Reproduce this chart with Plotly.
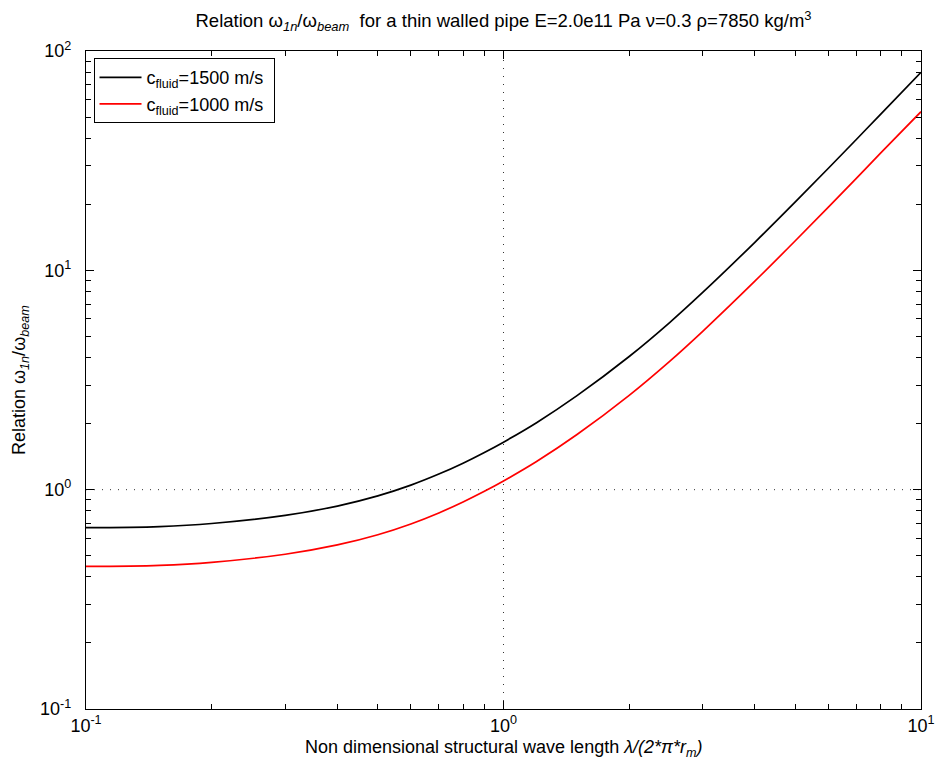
import plotly.graph_objects as go

# Non-dimensional structural wave length  lambda / (2*pi*r_m)
wave_length = [0.1, 0.15, 0.2, 0.3, 0.4, 0.5, 0.6, 0.7, 0.8, 0.9, 1.0,
               1.2, 1.5, 2.0, 2.5, 3.0, 4.0, 5.0, 6.0, 7.0, 8.0, 10.0]

# Frequency ratio omega_1n / omega_beam for the two fluid sound speeds
ratio_c1500 = [0.671, 0.679, 0.701, 0.763, 0.842, 0.937, 1.049, 1.178, 1.321,
               1.478, 1.647, 2.020, 2.683, 4.047, 5.78, 7.93, 13.42, 20.50,
               29.20, 39.49, 51.45, 80.0]
ratio_c1000 = [0.4465, 0.4519, 0.4663, 0.5077, 0.5600, 0.6233, 0.6979, 0.7834,
               0.8789, 0.9829, 1.0957, 1.344, 1.784, 2.692, 3.847, 5.274, 8.927,
               13.64, 19.43, 26.28, 34.22, 52.9]

series_names = ["c<sub>fluid</sub>=1500 m/s", "c<sub>fluid</sub>=1000 m/s"]
series_colors = ["#000000", "#ff0000"]

# Unit reference lines
ref_x_span = [0.1, 10.0]
ref_y_span = [0.1, 100.0]
ref_level = 1.0

x_ticks = [0.1, 1.0, 10.0]
x_tick_text = ["10<sup>-1</sup>", "10<sup>0</sup>", "10<sup>1</sup>"]
y_ticks = [0.1, 1.0, 10.0, 100.0]
y_tick_text = ["10<sup>-1</sup>", "10<sup>0</sup>", "10<sup>1</sup>", "10<sup>2</sup>"]

FONT = "Liberation Sans, Arial, Helvetica, sans-serif"
FS = 18

fig = go.Figure()

ref_style = dict(color="#333333", width=1, dash="1px,7px")
fig.add_trace(go.Scatter(x=ref_x_span, y=[ref_level, ref_level], mode="lines",
                         line=ref_style, showlegend=False, hoverinfo="skip"))
fig.add_trace(go.Scatter(x=[ref_level, ref_level], y=ref_y_span, mode="lines",
                         line=ref_style, showlegend=False, hoverinfo="skip"))

for name, color, values in zip(series_names, series_colors, [ratio_c1500, ratio_c1000]):
    fig.add_trace(go.Scatter(x=wave_length, y=values, mode="lines", name=name + "\u00a0",
                             line=dict(color=color, width=1.7, shape="spline", smoothing=1.0)))

minor_x = [d * 10.0 ** e for e in (-1, 0) for d in range(2, 10)]
minor_y = [d * 10.0 ** e for e in (-1, 0, 1) for d in range(2, 10)]

axis_common = dict(
    type="log",
    showline=True, linecolor="black", linewidth=1.3, mirror="ticks",
    ticks="inside", ticklen=8, tickwidth=1, tickcolor="black",
    showgrid=False, zeroline=False,
    tickfont=dict(family=FONT, size=FS, color="black"),
)

fig.update_xaxes(range=[-1, 1], tickmode="array", tickvals=x_ticks, ticktext=x_tick_text,
                 minor=dict(ticks="inside", ticklen=4.5, tickcolor="black", tickvals=minor_x, showgrid=False),
                 **axis_common)
fig.update_yaxes(range=[-1, 2], tickmode="array", tickvals=y_ticks, ticktext=y_tick_text,
                 ticklabelstandoff=10,
                 minor=dict(ticks="inside", ticklen=4.5, tickcolor="black", tickvals=minor_y, showgrid=False),
                 **axis_common)

fig.update_layout(
    width=935, height=772,
    margin=dict(l=86, r=14, t=51, b=63, autoexpand=False),
    paper_bgcolor="white", plot_bgcolor="white",
    font=dict(family=FONT, size=FS, color="black"),
    title=dict(
        text="Relation ω<sub><i>1n</i></sub>/ω<sub><i>beam</i></sub>\u00a0 for a thin walled pipe "
             "E=2.0e11 Pa ν=0.3 ρ=7850 kg/m<sup>3</sup>",
        x=0.5, xref="paper", xanchor="center",
        y=1 - 21 / 772, yref="container", yanchor="middle",
        font=dict(family=FONT, size=18.5, color="black"),
    ),
    legend=dict(
        x=0.009, y=0.989, xanchor="left", yanchor="top",
        bgcolor="white", bordercolor="black", borderwidth=1,
        itemwidth=42,
        font=dict(family=FONT, size=FS, color="black"),
    ),
    showlegend=True,
    annotations=[
        dict(text="Non dimensional structural wave length <i>λ/(2*π*r<sub>m</sub>)</i>",
             xref="paper", yref="paper", x=0.5, y=-(748 - 709) / 658,
             xanchor="center", yanchor="middle", showarrow=False,
             font=dict(family=FONT, size=FS, color="black")),
        dict(text="Relation ω<sub><i>1n</i></sub>/ω<sub><i>beam</i></sub>",
             xref="paper", yref="paper", x=(20 - 86) / 835, y=0.5,
             xanchor="center", yanchor="middle", textangle=-90, showarrow=False,
             font=dict(family=FONT, size=FS, color="black")),
    ],
)

fig.write_html("out.html")
